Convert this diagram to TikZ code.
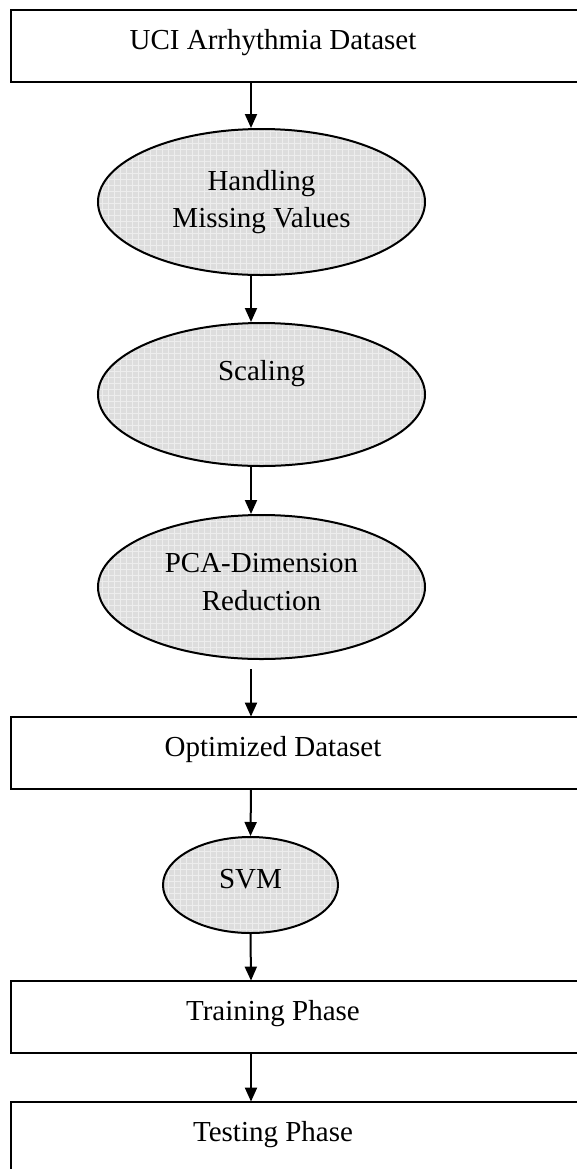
\documentclass[tikz,border=0pt]{standalone}
\usepackage{fontspec}
\setmainfont{Liberation Serif}
\usepackage{tikz}
\usetikzlibrary{arrows.meta}
\usetikzlibrary{patterns}
\usetikzlibrary{shapes.geometric}

\begin{document}
\begin{tikzpicture}[x=0.5pt,y=-0.5pt,
    font=\fontsize{14.5}{18.9}\selectfont,
    stage/.style={minimum height=36pt,text height=10pt,text depth=6.4pt},
    task/.style={draw,ellipse,line width=1pt,preaction={fill=gray!27},pattern=grid,pattern color=gray!14,align=center,inner sep=0pt},
    flow/.style={line width=1pt,-{Triangle[length=7pt,width=6pt]}}]
  \useasboundingbox (0,0) rectangle (577,1169);
  \clip (0,0) rectangle (577,1169);
  \coordinate (frameL) at (11,0);
  \coordinate (frameR) at (620,0);
  \coordinate (axis) at (251,0);
  \node[stage] (uci) at (273,46) {UCI Arrhythmia Dataset};
  \node[task,minimum width=163.5pt,minimum height=73pt] (missing) at (261.5,202) {Handling\\Missing Values};
  \node[task,minimum width=163.5pt,minimum height=71.5pt] (scaling) at (261.5,394.5) {Scaling\\\strut};
  \node[task,minimum width=163.5pt,minimum height=72pt,text depth=5pt] (pca) at (261.5,587) {PCA-Dimension\\Reduction};
  \node[stage] (opt) at (273,753) {Optimized Dataset};
  \node[task,minimum width=87.5pt,minimum height=48pt,text depth=6pt] (svm) at (250.5,885) {SVM};
  \node[stage] (train) at (273,1017) {Training Phase};
  \node[stage] (test) at (273,1138) {Testing Phase};
  % frames run off the right edge
  \foreach \n in {uci,opt,train,test}
    \draw[line width=1pt] (\n.north -| frameL) rectangle (\n.south -| frameR);
  \draw[flow] (uci.south -| axis) -- (missing.north -| axis);
  \draw[flow] (missing.south -| axis) -- (scaling.north -| axis);
  \draw[flow] (scaling.south -| axis) -- (pca.north -| axis);
  \draw[flow,shorten <=4.5pt] (pca.south -| axis) -- (opt.north -| axis);
  \draw[flow] (opt.south -| axis) -- (svm.north);
  \draw[flow] (svm.south) -- (train.north -| axis);
  \draw[flow] (train.south -| axis) -- (test.north -| axis);
\end{tikzpicture}
\end{document}
